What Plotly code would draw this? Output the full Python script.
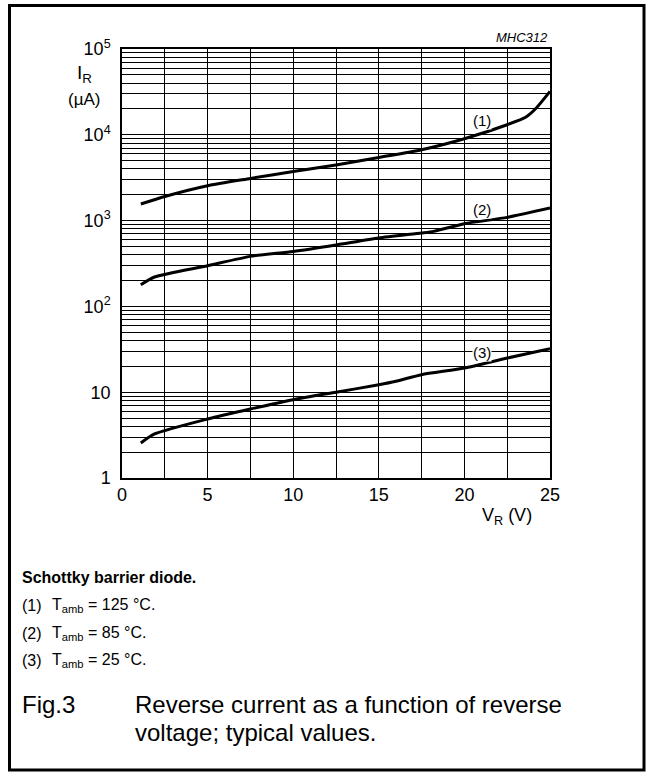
import math
import plotly.graph_objects as go

# ---- data ----
v1 = [1.1, 2.5, 5, 7.5, 10, 12.5, 15, 17.5, 20, 22.5, 23.6, 24.2, 25]
i1 = [1560, 1910, 2550, 3100, 3740, 4450, 5450, 6700, 9000, 13100, 16100, 20500, 32000]

v2 = [1.1, 1.9, 5, 7.5, 10, 12.5, 15, 17.5, 18.2, 20, 22.5, 25]
i2 = [179, 220, 298, 383, 437, 520, 627, 717, 749, 920, 1090, 1400]

v3 = [1.1, 1.9, 5, 7.5, 10, 12.5, 15, 16, 17.5, 20, 22.5, 25]
i3 = [2.56, 3.26, 4.87, 6.37, 8.18, 10.0, 12.2, 13.4, 16.0, 19.1, 25.0, 32.1]

curve_labels = ["(1)", "(2)", "(3)"]
label_x = [21, 21, 21]
label_y = [14600, 1340, 29]

x_ticks = [0, 5, 10, 15, 20, 25]
x_minor = [2.5, 7.5, 12.5, 17.5, 22.5]
y_ticks = [1, 10, 100, 1000, 10000, 100000]
y_ticktext = ["1", "10", "10<sup>2</sup>", "10<sup>3</sup>", "10<sup>4</sup>", "10<sup>5</sup>"]
y_minor = [m * 10 ** d for d in range(5) for m in range(2, 10)]

FONT = "Liberation Sans, Arial, Helvetica, sans-serif"

fig = go.Figure()
for v, i in [(v1, i1), (v2, i2), (v3, i3)]:
    fig.add_trace(go.Scatter(x=v, y=i, mode="lines",
                             line=dict(color="black", width=3, shape="spline", smoothing=0.6),
                             showlegend=False, hoverinfo="skip"))

for t, xx, yy in zip(curve_labels, label_x, label_y):
    fig.add_annotation(x=xx, y=math.log10(yy), yref="y", xref="x", text=t, showarrow=False,
                       font=dict(family=FONT, size=15, color="black"), bgcolor="white",
                       borderpad=0)

W, H = 653, 776
L, R, T, B = 122, 550, 49, 478
pw, ph = R - L, B - T


def px(x):
    return (x - L) / pw


def py(y):
    return (B - y) / ph


fig.update_layout(
    width=W, height=H,
    margin=dict(l=L, r=W - R, t=T, b=H - B),
    paper_bgcolor="white", plot_bgcolor="white",
    font=dict(family=FONT, color="black"),
    xaxis=dict(range=[0, 25], tickvals=x_ticks, ticktext=[str(t) for t in x_ticks],
               showgrid=True, gridcolor="black", gridwidth=1,
               minor=dict(tickvals=x_minor, showgrid=True, gridcolor="black", gridwidth=1),
               showline=True, linecolor="black", linewidth=1.5, mirror=True,
               ticks="", tickfont=dict(size=18, family=FONT), zeroline=False),
    yaxis=dict(type="log", range=[0, 5], tickvals=y_ticks, ticktext=y_ticktext,
               showgrid=True, gridcolor="black", gridwidth=1,
               minor=dict(tickvals=y_minor, showgrid=True, gridcolor="black", gridwidth=1),
               showline=True, linecolor="black", linewidth=1.5, mirror=True,
               ticks="", ticklabelstandoff=6,
               tickfont=dict(size=18, family=FONT), zeroline=False),
)

# outer frame
fig.add_shape(type="rect", xref="paper", yref="paper",
              x0=px(9.5), x1=px(644), y0=py(770), y1=py(5.5),
              line=dict(color="black", width=3), fillcolor="rgba(0,0,0,0)", layer="below")


def ann(x, y, text, size, xanchor="left", yanchor="middle", italic=False, bold=False):
    if bold:
        text = "<b>" + text + "</b>"
    if italic:
        text = "<i>" + text + "</i>"
    fig.add_annotation(xref="paper", yref="paper", x=px(x), y=py(y), text=text,
                       showarrow=False, xanchor=xanchor, yanchor=yanchor, align="left",
                       font=dict(family=FONT, size=size, color="black"))


ann(550, 37, "MHC312", 13, xanchor="right", italic=True)
ann(84, 74, "I<sub>R</sub>", 19, xanchor="center")
ann(84, 99, "(µA)", 17, xanchor="center")
ann(507, 516, "V<sub>R</sub> (V)", 18, xanchor="center")

ann(20, 577, "Schottky barrier diode.", 16, bold=True)
ann(20, 605, "(1)", 16)
ann(50, 605, "T<sub>amb</sub> = 125 °C.", 16)
ann(20, 633, "(2)", 16)
ann(50, 633, "T<sub>amb</sub> = 85 °C.", 16)
ann(20, 660, "(3)", 16)
ann(50, 660, "T<sub>amb</sub> = 25 °C.", 16)
ann(20, 704, "Fig.3", 24)
ann(133, 704, "Reverse current as a function of reverse", 24)
ann(133, 732, "voltage; typical values.", 24)

fig.write_html("out.html")
